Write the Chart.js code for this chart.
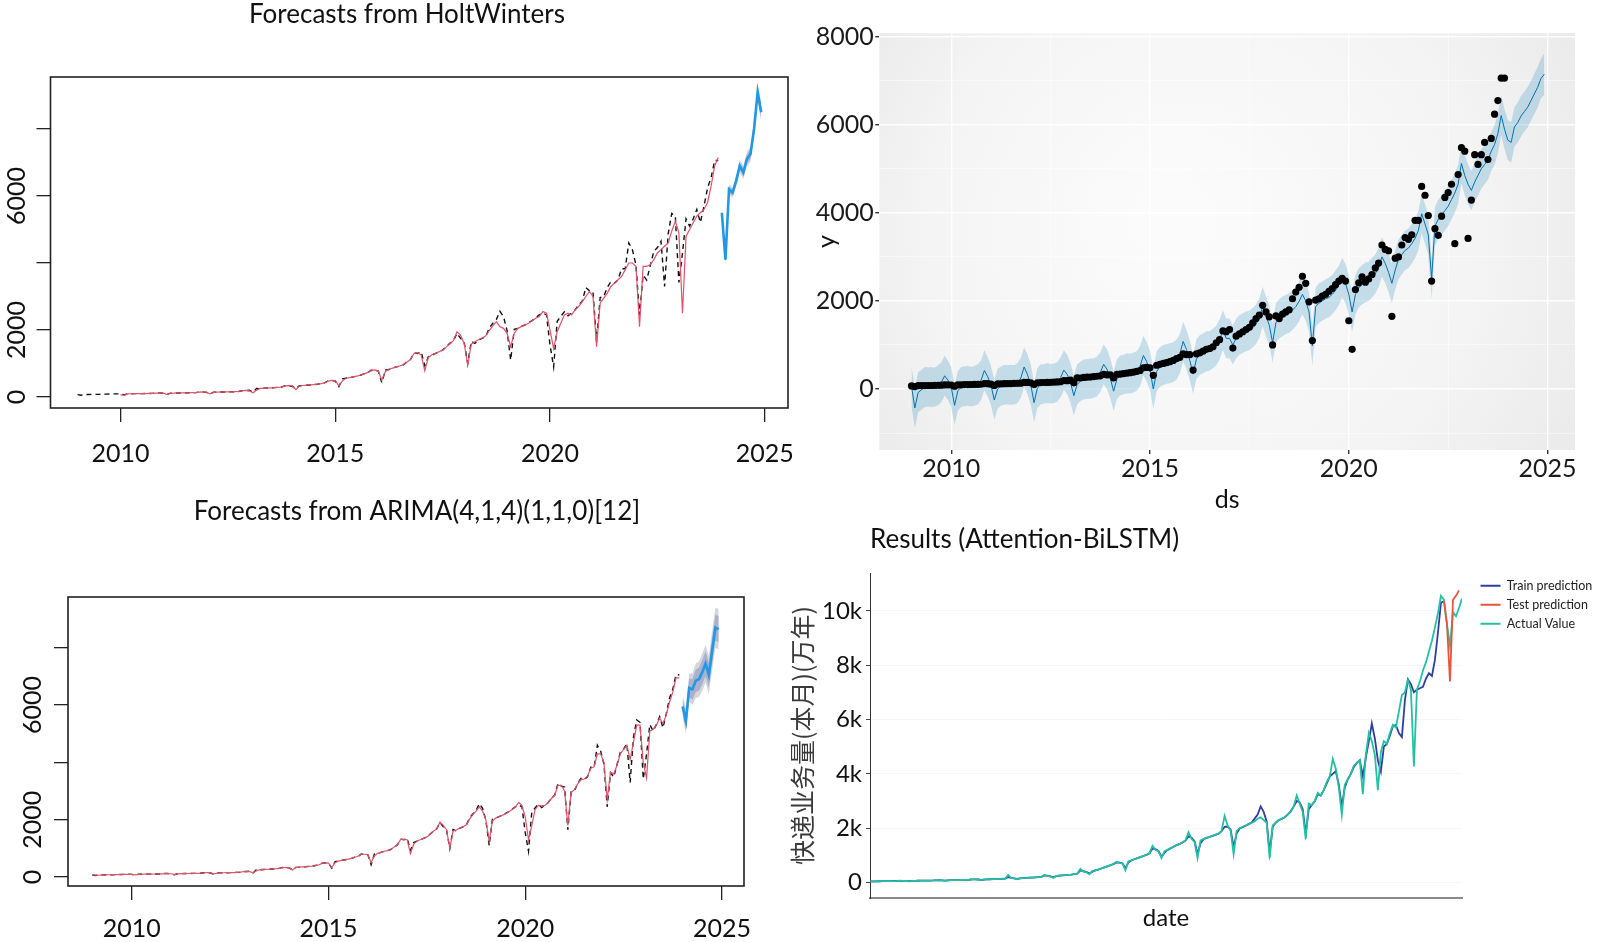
<!DOCTYPE html>
<html>
<head>
<meta charset="utf-8">
<script src="https://cdn.jsdelivr.net/npm/chart.js@4.4.1/dist/chart.umd.min.js"></script>
<style>
  html, body { margin: 0; padding: 0; background: #fff; }
  #wrap { position: relative; width: 1600px; height: 942px; overflow: hidden; }
  canvas { position: absolute; }
</style>
</head>
<body>
<div id="wrap">
  <canvas id="hw" style="left:0;top:0" width="814" height="470"></canvas>
  <canvas id="prophet" style="left:790px;top:0" width="810" height="530"></canvas>
  <canvas id="arima" style="left:0;top:470px" width="834" height="472"></canvas>
  <canvas id="lstm" style="left:760px;top:510px" width="840" height="432"></canvas>
</div>
<script>
// monthly express volume, Jan 2009 .. Dec 2023
const actual = [
  70, 55, 75, 75, 78, 80, 80, 82, 85, 88, 95, 95,
  90, 65, 95, 95, 100, 100, 102, 104, 106, 108, 122, 120,
  110, 80, 115, 117, 120, 122, 124, 126, 130, 132, 150, 150,
  140, 100, 142, 145, 148, 150, 152, 156, 160, 165, 192, 190,
  200, 140, 255, 250, 262, 268, 272, 280, 290, 300, 335, 320,
  320, 250, 335, 340, 350, 360, 370, 382, 400, 420, 480, 490,
  480, 310, 540, 560, 580, 600, 620, 650, 690, 720, 800, 780,
  780, 430, 800, 820, 860, 900, 920, 960, 1050, 1120, 1320, 1300,
  1350, 930, 1200, 1250, 1300, 1350, 1400, 1500, 1600, 1680, 1900, 1750,
  1640, 1000, 1660, 1600, 1700, 1750, 1800, 2050, 2200, 2310, 2560, 2400,
  1980, 1100, 2020, 2050, 2110, 2150, 2220, 2280, 2370, 2450, 2510, 2450,
  1550, 900, 2260, 2410, 2545, 2425, 2500, 2600, 2750, 2860, 3270, 3170,
  3140, 1650, 2970, 3000, 3270, 3440, 3400, 3500, 3830, 3830, 4600, 4400,
  3940, 2450, 3640, 3490, 3925, 4350, 4460, 4650, 3300, 4870, 5480, 5400,
  3420, 4290, 5320, 5100, 5320, 5600, 5210, 5690, 6240, 6550, 7060, 7060
];

// HoltWinters fitted values, Jan 2010 .. Dec 2023
const hwFitted = [
  62, 48, 92, 98, 99, 101, 102, 103, 106, 108, 116, 126,
  116, 72, 112, 118, 121, 122, 124, 127, 129, 133, 146, 154,
  146, 92, 136, 146, 149, 151, 153, 156, 160, 165, 186, 196,
  186, 126, 200, 255, 258, 266, 272, 278, 288, 298, 330, 338,
  330, 222, 330, 344, 352, 362, 372, 384, 400, 420, 470, 495,
  492, 332, 482, 560, 580, 602, 624, 650, 690, 726, 805, 812,
  782, 502, 762, 830, 862, 900, 925, 965, 1040, 1122, 1300, 1322,
  1252, 782, 1182, 1262, 1302, 1350, 1400, 1490, 1590, 1680, 1950, 1850,
  1600, 950, 1580, 1652, 1710, 1762, 1820, 1980, 2120, 2250, 2100, 2050,
  1900, 1500, 1900, 2050, 2100, 2150, 2200, 2280, 2350, 2400, 2550, 2500,
  2000, 1450, 1950, 2200, 2450, 2500, 2450, 2600, 2700, 2850, 3000, 3150,
  3000, 1500, 2800, 2950, 3100, 3300, 3400, 3500, 3600, 3800, 4000, 4000,
  3900, 2100, 3900, 3900, 3950, 4100, 4300, 4400, 4500, 4600, 4950, 5250,
  4900, 2500, 4800, 5000, 5200, 5400, 5500, 5600, 5800, 6300, 6900, 7150
];

// HoltWinters forecast for 2024
const hwMean = [5500, 4100, 6200, 6100, 6450, 6900, 6700, 7100, 7250, 8000, 9100, 8500];
const hwLo80 = [5440, 4030, 6120, 6010, 6350, 6790, 6580, 6970, 7110, 7850, 8940, 8330];
const hwHi80 = [5560, 4170, 6280, 6190, 6550, 7010, 6820, 7230, 7390, 8150, 9260, 8670];
const hwLo95 = [5400, 3980, 6060, 5950, 6280, 6710, 6500, 6880, 7020, 7750, 8830, 8210];
const hwHi95 = [5600, 4220, 6340, 6250, 6620, 7090, 6900, 7320, 7480, 8250, 9370, 8790];

// ARIMA fitted values, Jan 2009 .. Dec 2023
const arimaFitted = [
  70, 68, 62, 74, 76, 78, 80, 81, 84, 87, 92, 96,
  92, 72, 88, 96, 100, 101, 102, 104, 106, 108, 118, 122,
  114, 85, 110, 118, 121, 122, 124, 126, 130, 133, 148, 152,
  144, 105, 135, 146, 148, 150, 153, 156, 160, 165, 188, 192,
  190, 150, 215, 252, 260, 268, 272, 279, 289, 299, 330, 330,
  325, 245, 325, 342, 352, 361, 371, 383, 400, 420, 475, 492,
  485, 330, 500, 555, 578, 600, 622, 651, 690, 722, 795, 795,
  780, 500, 740, 825, 860, 898, 922, 962, 1045, 1118, 1310, 1310,
  1300, 820, 1150, 1260, 1302, 1350, 1400, 1495, 1595, 1680, 1920, 1800,
  1650, 1000, 1600, 1640, 1705, 1755, 1810, 2010, 2180, 2300, 2450, 2300,
  2000, 1250, 1950, 2060, 2110, 2150, 2210, 2280, 2360, 2440, 2600, 2500,
  2100, 1300, 1800, 2350, 2500, 2480, 2500, 2600, 2740, 2860, 3200, 3200,
  3000, 1800, 2950, 3050, 3250, 3400, 3420, 3520, 3800, 3850, 4300, 4300,
  4000, 2700, 3650, 3600, 3900, 4300, 4450, 4600, 4100, 4700, 5300, 5300,
  4000, 3450, 5100, 5150, 5300, 5550, 5350, 5650, 6100, 6450, 6950, 6950
];

// ARIMA forecast for 2024
const arMean = [5950, 5450, 6600, 6550, 6850, 6900, 7150, 7450, 7050, 7900, 8700, 8650];
const arLo80 = [5690, 5160, 6270, 6190, 6460, 6500, 6730, 7020, 6610, 7450, 8245, 8190];
const arHi80 = [6210, 5740, 6930, 6910, 7240, 7300, 7570, 7880, 7490, 8350, 9155, 9110];
const arLo95 = [5550, 5000, 6100, 6000, 6250, 6280, 6500, 6790, 6380, 7220, 8000, 7950];
const arHi95 = [6350, 5900, 7100, 7100, 7450, 7520, 7800, 8110, 7720, 8580, 9400, 9350];

// Prophet yhat and interval, Jan 2009 .. Dec 2024
const yhat = [
  60, -430, -80, -20, 40, 50, 40, 50, 80, 150, 300, 200,
  40, -370, -40, 40, 60, 70, 60, 70, 100, 200, 420, 280,
  80, -250, 0, 70, 90, 100, 90, 100, 130, 250, 500, 330,
  100, -310, 20, 100, 120, 130, 120, 130, 160, 260, 430, 330,
  140, -150, 100, 180, 210, 230, 230, 250, 280, 380, 560, 450,
  250, -50, 220, 300, 330, 350, 350, 370, 410, 520, 760, 620,
  420, 0, 400, 500, 540, 570, 580, 610, 660, 800, 1080, 900,
  650, 340, 680, 770, 810, 850, 870, 920, 990, 1120, 1340, 1150,
  1150, 1000, 1150, 1230, 1270, 1310, 1330, 1390, 1470, 1610, 1870, 1650,
  1450, 1050, 1500, 1600, 1650, 1700, 1720, 1790, 1870, 1990, 2150, 2000,
  1750, 980, 1870, 1950, 2000, 2050, 2080, 2150, 2240, 2360, 2530, 2400,
  2150, 1750, 2150, 2300, 2370, 2420, 2450, 2530, 2620, 2760, 3000, 2850,
  2650, 2400, 2700, 2950, 3050, 3150, 3200, 3300, 3420, 3600, 3980, 3750,
  3500, 2500, 3700, 3850, 3950, 4050, 4150, 4300, 4450, 4650, 5120, 4850,
  4650, 4510, 4700, 4850, 5000, 5100, 5200, 5400, 5550, 5800, 6210, 5900,
  5650, 5600, 5950, 6050, 6200, 6300, 6400, 6550, 6700, 6850, 7050, 7150
];
const yhatUpper = [
  510, 10, 380, 430, 500, 490, 500, 480, 540, 600, 760, 640,
  500, 80, 410, 500, 510, 530, 500, 520, 560, 650, 880, 720,
  530, 200, 460, 510, 550, 540, 550, 540, 590, 700, 950, 790,
  560, 140, 470, 560, 560, 590, 570, 580, 610, 720, 880, 780,
  590, 300, 560, 620, 670, 680, 690, 700, 740, 830, 1010, 910,
  700, 400, 670, 760, 780, 810, 800, 830, 860, 980, 1210, 1070,
  870, 450, 860, 950, 1000, 1020, 1040, 1060, 1120, 1250, 1530, 1350,
  1100, 790, 1130, 1220, 1260, 1310, 1320, 1370, 1440, 1580, 1790, 1600,
  1600, 1440, 1600, 1680, 1720, 1760, 1780, 1840, 1920, 2060, 2320, 2100,
  1900, 1490, 1950, 2040, 2100, 2140, 2170, 2240, 2310, 2440, 2590, 2450,
  2190, 1420, 2310, 2400, 2440, 2490, 2530, 2590, 2690, 2800, 2980, 2840,
  2590, 2190, 2600, 2740, 2810, 2870, 2890, 2980, 3060, 3200, 3440, 3300,
  3090, 2850, 3140, 3400, 3490, 3600, 3640, 3750, 3860, 4050, 4420, 4200,
  3950, 2950, 4140, 4300, 4390, 4500, 4590, 4750, 4890, 5100, 5560, 5300,
  5100, 4950, 5150, 5290, 5450, 5540, 5650, 5840, 6000, 6240, 6660, 6350,
  6100, 6060, 6400, 6500, 6660, 6750, 6860, 7000, 7160, 7310, 7500, 7620
];
const yhatLower = [
  -390, -880, -530, -470, -410, -400, -410, -400, -370, -300, -150, -250,
  -410, -820, -490, -410, -390, -380, -390, -380, -350, -250, -30, -170,
  -370, -700, -450, -380, -360, -350, -360, -350, -320, -200, 50, -120,
  -350, -760, -430, -350, -330, -320, -330, -320, -290, -190, -20, -120,
  -310, -600, -350, -270, -240, -220, -220, -200, -170, -70, 110, 0,
  -200, -500, -230, -150, -120, -100, -100, -80, -40, 70, 310, 170,
  -30, -450, -50, 50, 90, 120, 130, 160, 210, 350, 630, 450,
  200, -110, 230, 320, 360, 400, 420, 470, 540, 670, 890, 700,
  700, 560, 700, 780, 820, 860, 880, 940, 1020, 1160, 1420, 1200,
  1000, 600, 1050, 1150, 1200, 1250, 1270, 1340, 1420, 1540, 1700, 1550,
  1300, 530, 1420, 1500, 1550, 1600, 1630, 1700, 1790, 1910, 2080, 1950,
  1700, 1300, 1700, 1850, 1920, 1970, 2000, 2080, 2170, 2310, 2550, 2400,
  2200, 1950, 2250, 2500, 2600, 2700, 2750, 2850, 2970, 3150, 3530, 3300,
  3050, 2050, 3250, 3400, 3500, 3600, 3700, 3850, 4000, 4200, 4670, 4400,
  4200, 4060, 4250, 4400, 4550, 4650, 4750, 4950, 5100, 5350, 5760, 5450,
  5200, 5140, 5500, 5600, 5740, 5850, 5940, 6100, 6240, 6390, 6600, 6680
];

// Attention-BiLSTM panel, monthly index from Jan 2008
const lstmActual = [
  40, 35, 45, 46, 48, 50, 50, 52, 54, 56, 65, 62,
  55, 45, 60, 62, 64, 66, 68, 70, 72, 75, 85, 82,
  78, 60, 82, 85, 88, 90, 92, 95, 98, 102, 115, 112,
  108, 85, 112, 116, 120, 124, 128, 132, 138, 142, 280, 160,
  150, 120, 160, 165, 170, 178, 182, 188, 196, 205, 280, 240,
  220, 170, 240, 250, 260, 270, 280, 290, 310, 330, 500, 400,
  380, 300, 420, 450, 480, 520, 560, 600, 640, 680, 760, 720,
  700, 450, 780, 820, 860, 900, 940, 980, 1020, 1080, 1350, 1200,
  1150, 900, 1150, 1200, 1260, 1320, 1380, 1420, 1480, 1550, 1850, 1600,
  1500, 900, 1550, 1600, 1650, 1680, 1720, 1760, 1800, 1900, 2450, 2100,
  1900, 1050, 1900, 2000, 2050, 2100, 2150, 2200, 2250, 2350, 2400, 2300,
  2200, 900, 2100, 2200, 2300, 2350, 2400, 2500, 2600, 2800, 3200, 2900,
  2600, 1600, 2900, 2850, 3000, 3300, 3200, 3400, 3700, 3900, 4550, 4200,
  3500, 2500, 3600, 3800, 4000, 4300, 4400, 4500, 3250, 4700, 5500, 5200,
  4700, 3400, 4800, 5200, 5100, 5500, 5800, 5700, 6300, 6900, 7000, 7450,
  7100, 4270, 7100, 7400, 7800, 8100, 8500, 8900, 9400, 9900, 10550, 10400,
  9500, 8700, 9950, 9800, 10100, 10450
];
const lstmTrain = [
  45, 42, 45, 47, 49, 50, 51, 53, 55, 57, 62, 63,
  58, 50, 58, 62, 64, 66, 68, 70, 72, 75, 82, 84,
  80, 68, 80, 85, 88, 90, 92, 95, 98, 102, 112, 114,
  110, 92, 110, 116, 120, 124, 128, 132, 137, 142, 200, 170,
  155, 130, 155, 165, 170, 177, 182, 188, 195, 204, 260, 250,
  230, 190, 235, 250, 260, 270, 280, 290, 308, 328, 450, 420,
  390, 330, 400, 445, 478, 515, 555, 595, 635, 675, 740, 730,
  710, 520, 740, 815, 855, 895, 935, 975, 1015, 1075, 1250, 1230,
  1160, 950, 1100, 1195, 1255, 1315, 1375, 1415, 1475, 1545, 1700, 1650,
  1520, 1050, 1450, 1590, 1640, 1675, 1715, 1755, 1800, 1890, 2050, 2060,
  1950, 1300, 1800, 1990, 2040, 2090, 2150, 2210, 2350, 2500, 2800, 2600,
  2250, 1100, 2050, 2200, 2290, 2340, 2400, 2500, 2620, 2800, 3000, 2950,
  2700, 1800, 2700, 2850, 2990, 3250, 3200, 3400, 3650, 3900, 4000, 4100,
  3600, 2800, 3500, 3800, 4000, 4250, 4400, 4500, 3900, 4600, 5200, 5850,
  5300, 4500, 4080, 5000, 5100, 5400, 5750, 5800, 5500, 5350, 6700, 7480,
  7300, 7000, 7100, 7150, 7200, 7500, 7700, 7600, 8200, 9200, 10300, 10350
];
const lstmTestStart = 191;
const lstmTest = [10350, 9500, 7400, 10400, 10550, 10750];

// axis ticks
const rYearTicks = [2010, 2015, 2020, 2025];
const rValueTicks = [0, 2000, 4000, 6000, 8000];
const rValueLabels = [0, 2000, 6000];
const prophetYearTicks = [2010, 2012.5, 2015, 2017.5, 2020, 2022.5, 2025];
const prophetValueTicks = [-1000, 0, 1000, 2000, 3000, 4000, 5000, 6000, 7000, 8000];
const lstmValueTicks = [0, 2000, 4000, 6000, 8000, 10000];

Chart.defaults.font.family = 'Lato, "Noto Sans", sans-serif';
Chart.defaults.color = '#111';

function series(values, start) {
  return values.map((v, i) => ({ x: start + i / 12, y: v }));
}
function indexed(values, start) {
  return values.map((v, i) => ({ x: start + i, y: v }));
}

const frame = {
  id: 'frame',
  afterDraw(chart) {
    const { ctx, chartArea: a } = chart;
    ctx.save();
    ctx.strokeStyle = '#222';
    ctx.lineWidth = 1.6;
    ctx.strokeRect(a.left, a.top, a.width, a.height);
    ctx.restore();
  }
};

const panelBg = {
  id: 'panelBg',
  beforeDraw(chart) {
    const { ctx, chartArea: a } = chart;
    const g = ctx.createRadialGradient(
      a.left + a.width * 0.42, a.top + a.height * 0.45, 30,
      a.left + a.width * 0.5, a.top + a.height * 0.5, a.width * 0.68);
    g.addColorStop(0, '#fbfbfb');
    g.addColorStop(0.55, '#f4f4f4');
    g.addColorStop(1, '#e6e6e6');
    ctx.save();
    ctx.fillStyle = g;
    ctx.fillRect(a.left, a.top, a.width, a.height);
    ctx.restore();
  }
};

const rTickGrid = { display: true, drawOnChartArea: false, drawTicks: true, tickLength: 14, color: '#222', lineWidth: 1.3 };

function rAxisX(min, max, h, pad) {
  return {
    type: 'linear', min: min, max: max, bounds: 'data',
    afterBuildTicks: (s) => { s.ticks = rYearTicks.map((v) => ({ value: v })); },
    afterFit: (s) => { s.height = h; s.paddingLeft = 0; s.paddingRight = 0; },
    grid: rTickGrid,
    border: { display: false },
    ticks: { font: { size: 25 }, padding: pad, maxRotation: 0, autoSkip: false, callback: (v) => String(v) }
  };
}

function rAxisY(min, max, w, pad) {
  return {
    type: 'linear', min: min, max: max, bounds: 'data',
    afterBuildTicks: (s) => { s.ticks = rValueTicks.map((v) => ({ value: v })); },
    afterFit: (s) => { s.width = w; s.paddingTop = 0; s.paddingBottom = 0; },
    grid: rTickGrid,
    border: { display: false },
    ticks: {
      font: { size: 25 }, minRotation: 90, maxRotation: 90, crossAlign: 'center',
      padding: pad, autoSkip: false,
      callback: (v) => (rValueLabels.includes(v) ? String(v) : '')
    }
  };
}

// empty right-hand box, only reserves room so the title centres like R's
function spacer(w) {
  return {
    type: 'linear', position: 'right', display: true,
    afterFit: (s) => { s.width = w; },
    grid: { display: false }, border: { display: false }, ticks: { display: false }
  };
}

function forecastSets(fitted, fittedStart, mean, lo80, hi80, lo95, hi95) {
  return [
    { data: series(fitted, fittedStart), borderColor: '#DF536B', borderWidth: 1.2, order: 0 },
    { data: series(actual, 2009), borderColor: '#111', borderWidth: 1.4, borderDash: [5, 4], order: 1 },
    { data: series(mean, 2024), borderColor: '#2297E6', borderWidth: 2.6, order: 2 },
    { data: series(lo80, 2024), borderColor: 'transparent', order: 4 },
    { data: series(hi80, 2024), borderColor: 'transparent', fill: '-1', backgroundColor: '#a9b1cb', order: 3 },
    { data: series(lo95, 2024), borderColor: 'transparent', order: 6 },
    { data: series(hi95, 2024), borderColor: 'transparent', fill: '-1', backgroundColor: '#d4d6de', order: 5 }
  ];
}

// HoltWinters
new Chart(document.getElementById('hw'), {
  type: 'line',
  data: { datasets: forecastSets(hwFitted, 2010, hwMean, hwLo80, hwHi80, hwLo95, hwHi95) },
  options: {
    responsive: false,
    animation: false,
    layout: { padding: 0 },
    elements: { point: { radius: 0 }, line: { tension: 0 } },
    plugins: {
      legend: { display: false },
      tooltip: { enabled: false },
      title: {
        display: true, text: 'Forecasts from HoltWinters', color: '#111',
        font: { size: 26, weight: 'normal' }, padding: { top: -0.6, bottom: 46.4 }
      }
    },
    scales: {
      x: rAxisX(2008.37, 2025.54, 62, 16.5),
      y: rAxisY(-328, 9552, 50.5, -9.5),
      yr: spacer(26)
    }
  },
  plugins: [frame]
});

// ARIMA
new Chart(document.getElementById('arima'), {
  type: 'line',
  data: { datasets: forecastSets(arimaFitted, 2009, arMean, arLo80, arHi80, arLo95, arHi95) },
  options: {
    responsive: false,
    animation: false,
    layout: { padding: 0 },
    elements: { point: { radius: 0 }, line: { tension: 0 } },
    plugins: {
      legend: { display: false },
      tooltip: { enabled: false },
      title: {
        display: true, text: 'Forecasts from ARIMA(4,1,4)(1,1,0)[12]', color: '#111',
        font: { size: 26, weight: 'normal' }, padding: { top: 26.4, bottom: 69.4 }
      }
    },
    scales: {
      x: rAxisX(2008.38, 2025.56, 56, 13.5),
      y: rAxisY(-314, 9773, 68, -8),
      yr: spacer(90)
    }
  },
  plugins: [frame]
});

// Prophet
const isMajorYear = (v) => v % 5 === 0;
const isMajorValue = (v) => v % 2000 === 0;
new Chart(document.getElementById('prophet'), {
  type: 'line',
  data: {
    datasets: [
      { data: series(yhatLower, 2009), borderColor: 'transparent', order: 4 },
      { data: series(yhatUpper, 2009), borderColor: 'transparent', fill: '-1', backgroundColor: 'rgba(0,114,178,0.2)', order: 3 },
      { data: series(yhat, 2009), borderColor: '#0072B2', borderWidth: 1, order: 2 },
      { data: series(actual, 2009), showLine: false, pointRadius: 3.6, pointBackgroundColor: '#000', pointBorderWidth: 0, borderColor: '#000', order: 1 }
    ]
  },
  options: {
    responsive: false,
    animation: false,
    layout: { padding: { left: 0, right: 25, top: 33, bottom: 0 } },
    elements: { point: { radius: 0 }, line: { tension: 0 } },
    plugins: { legend: { display: false }, tooltip: { enabled: false } },
    scales: {
      x: {
        type: 'linear', min: 2008.19, max: 2025.69, bounds: 'data',
        afterBuildTicks: (s) => { s.ticks = prophetYearTicks.map((v) => ({ value: v })); },
        afterFit: (s) => { s.height = 80; s.paddingLeft = 0; s.paddingRight = 0; },
        grid: {
          drawTicks: true, tickLength: 4,
          color: (c) => (isMajorYear(c.tick.value) ? 'rgba(255,255,255,0.9)' : 'rgba(255,255,255,0.6)'),
          lineWidth: (c) => (isMajorYear(c.tick.value) ? 1.4 : 0.8),
          tickColor: (c) => (isMajorYear(c.tick.value) ? '#333' : 'transparent')
        },
        border: { display: false },
        ticks: {
          font: { size: 25 }, color: '#1a1a1a', padding: 0, maxRotation: 0, autoSkip: false,
          callback: (v) => (isMajorYear(v) ? String(v) : '')
        },
        title: { display: true, text: 'ds', font: { size: 25 }, color: '#111', padding: { top: 0, bottom: 15 } }
      },
      y: {
        type: 'linear', min: -1385, max: 8084, bounds: 'data',
        afterBuildTicks: (s) => { s.ticks = prophetValueTicks.map((v) => ({ value: v })); },
        afterFit: (s) => { s.width = 89.3; s.paddingTop = 0; s.paddingBottom = 0; },
        grid: {
          drawTicks: true, tickLength: 4,
          color: (c) => (isMajorValue(c.tick.value) ? 'rgba(255,255,255,0.9)' : 'rgba(255,255,255,0.6)'),
          lineWidth: (c) => (isMajorValue(c.tick.value) ? 1.4 : 0.8),
          tickColor: (c) => (isMajorValue(c.tick.value) ? '#333' : 'transparent')
        },
        border: { display: false },
        ticks: {
          font: { size: 25 }, color: '#1a1a1a', padding: 1.5, autoSkip: false,
          callback: (v) => (isMajorValue(v) && v >= 0 ? String(v) : '')
        },
        title: { display: true, text: 'y', font: { size: 25 }, color: '#111', padding: { top: 21.6, bottom: 0 } }
      }
    }
  },
  plugins: [panelBg]
});

// Attention-BiLSTM
new Chart(document.getElementById('lstm'), {
  type: 'line',
  data: {
    datasets: [
      { label: 'Train prediction', data: indexed(lstmTrain, 0), borderColor: '#2f3f9e', backgroundColor: '#2f3f9e', borderWidth: 1.8, order: 1 },
      { label: 'Test prediction', data: indexed(lstmTest, lstmTestStart), borderColor: '#e8553e', backgroundColor: '#e8553e', borderWidth: 1.8, order: -1 },
      { label: 'Actual Value', data: indexed(lstmActual, 0), borderColor: '#25bfa3', backgroundColor: '#25bfa3', borderWidth: 1.8, order: 0 }
    ]
  },
  options: {
    responsive: false,
    animation: false,
    layout: { padding: { left: 0, right: 6, top: 0, bottom: 0 } },
    elements: { point: { radius: 0 }, line: { tension: 0 } },
    plugins: {
      tooltip: { enabled: false },
      title: {
        display: true, text: 'Results (Attention-BiLSTM)', align: 'start', fullSize: false, color: '#111',
        font: { size: 26, weight: 'normal' }, padding: { top: 14.4, bottom: 17.4 }
      },
      legend: {
        display: true, position: 'right', align: 'start', fullSize: false, maxWidth: 120,
        labels: {
          boxWidth: 20, boxHeight: 0, padding: 6.5, color: '#222', font: { size: 12.5 },
          sort: (a, b) => a.datasetIndex - b.datasetIndex
        }
      }
    },
    scales: {
      x: {
        type: 'linear', min: 0, max: 197, bounds: 'data',
        afterFit: (s) => { s.height = 44; s.paddingLeft = 0; s.paddingRight = 0; },
        grid: { display: false },
        border: { display: true, color: '#8a8a8a', width: 2 },
        ticks: { display: false },
        title: { display: true, text: 'date', font: { size: 24 }, color: '#111', padding: { top: 0, bottom: 9.6 } }
      },
      y: {
        type: 'linear', min: -570, max: 11390, bounds: 'data',
        afterBuildTicks: (s) => { s.ticks = lstmValueTicks.map((v) => ({ value: v })); },
        afterFit: (s) => { s.width = 110; s.paddingTop = 0; s.paddingBottom = 0; },
        grid: { color: 'rgba(0,0,0,0.035)', drawTicks: true, tickLength: 4, tickColor: '#444' },
        border: { display: true, color: '#333', width: 1 },
        ticks: {
          font: { size: 24 }, color: '#111', padding: 4, autoSkip: false,
          callback: (v) => (v === 0 ? '0' : v / 1000 + 'k')
        },
        title: {
          display: true, text: '快递业务量(本月)(万年)', color: '#3a3a3a',
          font: { size: 25, family: '"Noto Sans CJK SC", sans-serif' }, padding: { top: 27, bottom: 0 }
        }
      },
      y2: spacer(12)
    }
  }
});
</script>
</body>
</html>
